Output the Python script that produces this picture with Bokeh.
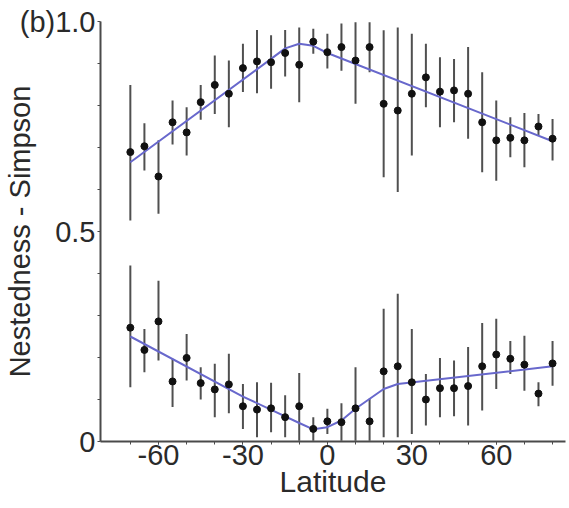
from bokeh.plotting import figure
from bokeh.models import FixedTicker
from bokeh.embed import file_html
from bokeh.resources import INLINE

# ---- data ----
lat = [-70, -65, -60, -55, -50, -45, -40, -35, -30, -25, -20, -15, -10, -5, 0,
       5, 10, 15, 20, 25, 30, 35, 40, 45, 50, 55, 60, 65, 70, 75, 80]

upper_mean = [0.689, 0.703, 0.631, 0.760, 0.736, 0.808, 0.849, 0.828, 0.889, 0.905,
              0.903, 0.925, 0.897, 0.952, 0.927, 0.939, 0.907, 0.939, 0.804, 0.788,
              0.828, 0.867, 0.833, 0.836, 0.828, 0.760, 0.717, 0.723, 0.717, 0.750, 0.721]
upper_hi = [0.849, 0.758, 0.717, 0.812, 0.796, 0.849, 0.919, 0.907, 0.947, 0.980,
            0.967, 0.980, 0.986, 0.983, 0.971, 0.995, 0.998, 0.998, 0.979, 0.986,
            0.971, 0.947, 0.915, 0.911, 0.939, 0.879, 0.812, 0.772, 0.782, 0.780, 0.768]
upper_lo = [0.526, 0.645, 0.542, 0.707, 0.681, 0.766, 0.780, 0.748, 0.832, 0.829,
            0.840, 0.869, 0.808, 0.923, 0.888, 0.883, 0.804, 0.879, 0.629, 0.594,
            0.681, 0.796, 0.748, 0.760, 0.721, 0.641, 0.621, 0.677, 0.653, 0.729, 0.669]

lower_mean = [0.271, 0.218, 0.286, 0.143, 0.199, 0.139, 0.124, 0.136, 0.084, 0.076,
              0.079, 0.058, 0.084, 0.030, 0.048, 0.046, 0.079, 0.048, 0.167, 0.179,
              0.141, 0.100, 0.127, 0.127, 0.132, 0.179, 0.207, 0.197, 0.183, 0.114, 0.186]
lower_hi = [0.419, 0.268, 0.383, 0.197, 0.256, 0.177, 0.185, 0.209, 0.137, 0.141,
            0.140, 0.110, 0.163, 0.058, 0.078, 0.091, 0.177, 0.102, 0.316, 0.352,
            0.268, 0.161, 0.199, 0.193, 0.225, 0.282, 0.292, 0.239, 0.252, 0.141, 0.239]
lower_lo = [0.129, 0.165, 0.193, 0.082, 0.145, 0.100, 0.058, 0.067, 0.030, 0.010,
            0.022, 0.010, 0.002, 0.002, 0.018, 0.002, 0.002, 0.002, 0.010, 0.010,
            0.018, 0.038, 0.058, 0.060, 0.038, 0.074, 0.125, 0.161, 0.121, 0.084, 0.133]

upper_fit_lat = [-70, -20, -15, -10, -5, 0, 80]
upper_fit = [0.665, 0.911, 0.936, 0.947, 0.942, 0.925, 0.715]

lower_fit_lat = [-70, -30, -10, -5, 0, 5, 10, 20, 25, 80]
lower_fit = [0.250, 0.107, 0.044, 0.029, 0.034, 0.050, 0.078, 0.125, 0.137, 0.179]

x_major = [-60, -30, 0, 30, 60]
x_labels = {-60: "-60", -30: "-30", 0: "0", 30: "30", 60: "60"}
x_minor = [-70, -60, -50, -40, -30, -20, -10, 0, 10, 20, 30, 40, 50, 60, 70, 80]
y_major = [0, 0.5, 1.0]
y_minor = [0.1, 0.2, 0.3, 0.4, 0.6, 0.7, 0.8, 0.9]
y_labels = {0: "0", 0.5: "0.5", 1: "(b)1.0"}

FONT = "Liberation Sans"
TXT = "#2a2a2a"
AX = "#4a4a4a"

p = figure(frame_width=465, frame_height=420,
           x_range=(-80.6, 84.6), y_range=(0, 1.0),
           output_backend="svg", toolbar_location=None,
           min_border_left=100, min_border_right=4, min_border_top=21, min_border_bottom=66)
p.outline_line_color = None
p.grid.visible = False
p.background_fill_color = "white"
p.border_fill_color = "white"

# error bars
p.segment(x0=lat, y0=upper_lo, x1=lat, y1=upper_hi, line_color="#505050", line_width=2)
p.segment(x0=lat, y0=lower_lo, x1=lat, y1=lower_hi, line_color="#505050", line_width=2)
# fitted lines
p.line(upper_fit_lat, upper_fit, line_color="#6868cc", line_width=2)
p.line(lower_fit_lat, lower_fit, line_color="#6868cc", line_width=2)
# points
p.scatter(lat, upper_mean, size=7, color="#111111")
p.scatter(lat, lower_mean, size=7, color="#111111")

xa = p.xaxis[0]
xa.ticker = FixedTicker(ticks=x_major, minor_ticks=x_minor)
xa.major_label_overrides = x_labels
xa.axis_label = "Latitude"
ya = p.yaxis[0]
ya.ticker = FixedTicker(ticks=y_major, minor_ticks=y_minor)
ya.major_label_overrides = y_labels
ya.axis_label = "Nestedness - Simpson"

for ax in (xa, ya):
    ax.axis_line_color = AX
    ax.axis_line_width = 2
    ax.major_tick_line_color = AX
    ax.minor_tick_line_color = AX
    ax.major_tick_in = 0
    ax.major_tick_out = 3
    ax.minor_tick_in = 0
    ax.minor_tick_out = 3
    ax.major_label_text_font = FONT
    ax.major_label_text_font_size = "29px"
    ax.major_label_text_color = TXT
    ax.axis_label_text_font = FONT
    ax.axis_label_text_font_style = "normal"
    ax.axis_label_text_color = TXT

xa.axis_label_text_font_size = "30px"
ya.axis_label_text_font_size = "29px"
xa.major_label_standoff = 0
xa.axis_label_standoff = -3
ya.major_label_standoff = 2
ya.axis_label_standoff = -19

open("out.html", "w").write(file_html(p, INLINE))
